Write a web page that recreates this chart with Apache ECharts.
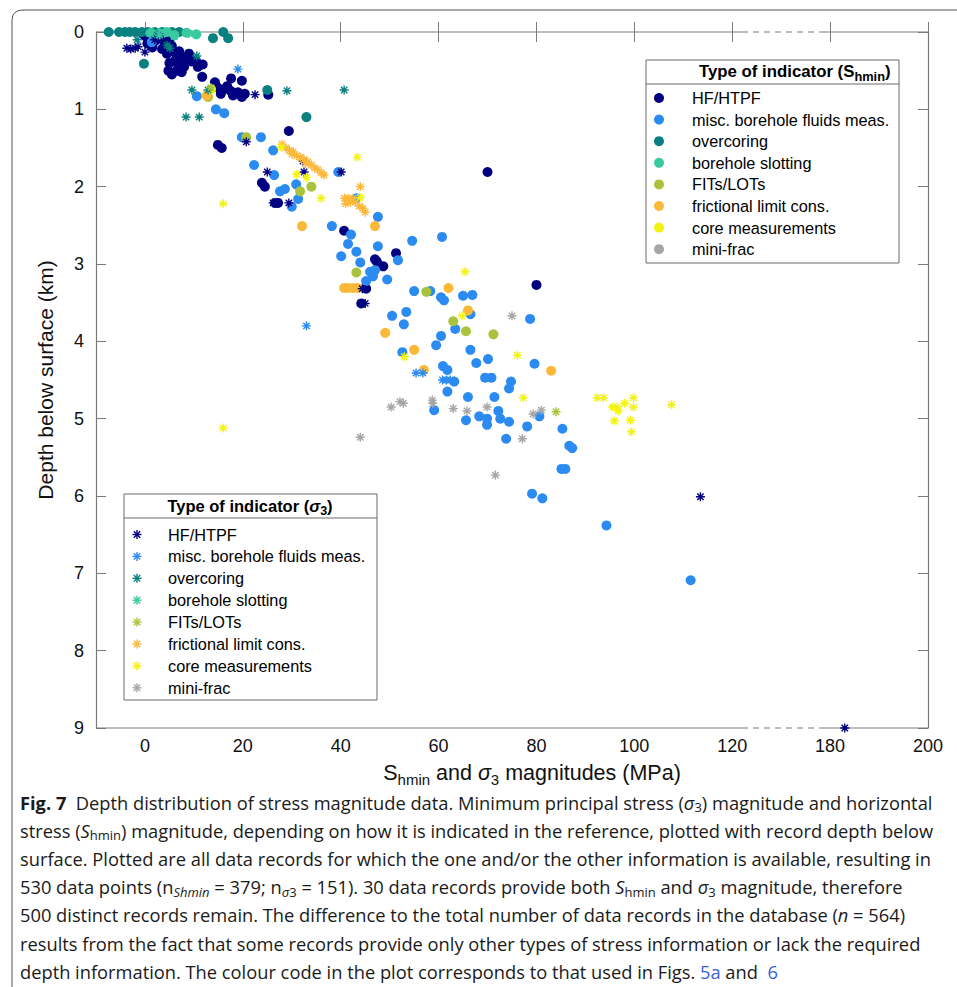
<!DOCTYPE html>
<html><head><meta charset="utf-8">
<script src="https://cdn.jsdelivr.net/npm/echarts@6/dist/echarts.min.js"></script>
<style>html,body{margin:0;padding:0;background:#fff;}#c{width:957px;height:987px;}</style>
</head><body><div id="c"></div>
<script>
// ---------------- DATA ----------------
const categories = ['HF/HTPF','misc. borehole fluids meas.','overcoring','borehole slotting','FITs/LOTs','frictional limit cons.','core measurements','mini-frac'];
const colors = ['#000080','#2b8bf0','#0a8080','#38c9a0','#a9c43c','#fcb939','#f3f312','#a6a6a6'];
const xTickValues = [0,20,40,60,80,100,120,180,200];
const yTickValues = [0,1,2,3,4,5,6,7,8,9];
const xBreak = [122,178];

// S_hmin magnitudes (circles): [MPa, km]
const shminHF = [[0,0.05],[1,0.1],[2,0.12],[3,0.08],[4,0.15],[5,0.1],[1.5,0.2],[3.5,0.22],[5.5,0.18],[0.5,0.15],[2.5,0.03],[-0.5,0.02],
[4.5,0.28],[5.5,0.25],[6.5,0.3],[7.5,0.32],[8.5,0.35],[9.5,0.38],[6,0.38],[7,0.42],[8,0.45],[5,0.4],[9,0.28],[7,0.25],
[4.8,0.5],[5.5,0.55],[6.5,0.5],[7.5,0.52],[10.4,0.37],[11.8,0.42],[10.8,0.45],[11.7,0.58],[14.3,0.65],
[14.7,0.71],[16,0.74],[17.5,0.76],[19,0.78],[20.4,0.8],[15.5,0.8],[18,0.82],[19.8,0.84],[16.8,0.7],[17.6,0.6],[19.8,0.63],[25.2,0.81],
[29.4,1.28],[14.9,1.46],[15.7,1.5],[23.9,1.95],[24.5,2.0],[26.6,2.21],[27.2,2.21],[70,1.81],
[40.7,2.57],[47,2.94],[47.4,2.97],[48.7,3.03],[51.3,2.86],[45.2,3.32],[44.2,3.51],[80,3.27]];
const shminMisc = [[1.4,0.13],[10.6,0.83],[14.5,1.0],[16.2,1.05],[19.8,1.36],[23.7,1.36],[26.2,1.53],[22.3,1.72],[26.4,1.85],[30.9,1.97],[27.6,2.06],[28.6,2.03],[31.3,2.16],[30,2.26],
[39.5,1.81],[43.2,2.15],[47.6,2.39],[38.2,2.51],[42.1,2.62],[41.5,2.74],[47.6,2.77],[54.6,2.7],[40.1,2.9],[43.2,2.84],[44,2.98],[51.7,2.95],[49.5,3.2],[46,3.1],[47,3.08],[46.6,3.16],[45.2,3.22],[55,3.35],
[60.7,2.65],[58.3,3.35],[60.5,3.43],[61.1,3.47],[65,3.41],[66.9,3.4],[66.5,3.65],[50.5,3.67],[53.4,3.62],[52.9,3.78],[63.4,3.84],[60.5,3.93],[59.5,4.05],[52.6,4.14],[66.5,4.11],[70.1,4.23],[67.7,4.28],[60.9,4.32],[61.8,4.37],[63.2,4.52],[69.5,4.47],[70.8,4.47],[74.8,4.52],[78.7,3.71],[74.4,4.61],
[79.6,4.29],[61.8,4.65],[66,4.72],[71.4,4.72],[59.1,4.89],[65.6,5.02],[68.3,4.97],[69.9,5.0],[69.9,5.08],[72.2,4.9],[72.6,5.0],[74.4,5.04],[78.1,5.1],[80.6,4.97],[85.3,5.13],[73.8,5.26],
[86.7,5.35],[87.3,5.38],[85.1,5.65],[85.9,5.65],[79.1,5.97],[81.2,6.03],[94.3,6.38],[111.5,7.09]];
const shminOver = [[-7.4,0],[-5.3,0],[-4.1,0],[-3.1,0],[-2,0],[-0.6,0],[0.6,0],[2,0],[3.5,0],[5.5,0],[7,0],[16,0],[13.9,0.08],[17,0.08],[-0.2,0.41],[25,0.75],[33,1.1]];
const shminSlot = [[4.5,0],[1.2,0.01],[3,0.02],[8.5,0.01],[10.5,0.03],[6,0.04]];
const shminFIT = [[12.9,0.84],[20.7,1.36],[31.7,2.06],[34,2.0],[43.2,3.11],[57.5,3.36],[63,3.74],[65.6,3.87],[71.2,3.91]];
const shminFric = [[12.6,0.82],[32.1,2.51],[47,2.51],[40.7,3.31],[41.5,3.31],[42.5,3.31],[43.4,3.31],[49.1,3.89],[55,4.11],[62,3.31],[66,3.6],[57,4.37],[83,4.38]];
const shminCore = [[13.5,0.74]];
const shminMini = [];

// sigma_3 magnitudes (asterisks): [MPa, km]
const sigmaHF = [[-3.7,0.21],[-2.9,0.22],[-2,0.21],[-1.4,0.19],[0,0.26],[2,0.1],[3,0.05],
[22.5,0.81],[20.7,1.42],[32.3,1.67],[32.5,1.81],[25,1.81],[29.4,2.21],[26.2,2.21],[40.1,1.81],[44.4,3.32],[45,3.51],[113.5,6.01],[183,9.0]];
const sigmaMisc = [[19,0.48],[33,3.8],[55.4,4.41],[56.8,4.41],[60.8,4.5],[61.6,4.5],[62.4,4.5],[43.4,2.15]];
const sigmaOver = [[10.6,0.31],[9.6,0.75],[12.9,0.75],[29,0.76],[8.4,1.1],[11.1,1.1],[40.7,0.75],[-1.6,0.1],[2.5,0.04],[4.5,0.17],[5.1,0.21]];
const sigmaSlot = [[1,0.02],[3,0.04],[6,0.06],[9,0.02]];
const sigmaFIT = [[13.5,0.72],[84,4.91]];
const sigmaFric = [[28,1.45],[28.8,1.5],[29.5,1.53],[30.3,1.55],[31,1.6],[31.8,1.62],[32.5,1.65],[33.3,1.68],[34,1.72],[34.7,1.76],[35.3,1.78],[36,1.82],[36.6,1.85],[30,1.58],[32.8,1.7],
[40.8,2.15],[41.5,2.15],[42.5,2.15],[43,2.2],[43.8,2.25],[44.5,2.28],[45,2.33],[41,2.22],[42,2.2],[44,2.0]];
const sigmaCore = [[16,2.22],[31,1.84],[33,1.88],[36,2.15],[27.8,1.49],[43.4,1.62],[44,2.14],[65.4,3.1],[64.8,3.67],[53,4.2],[76.1,4.18],[77.3,4.73],[92.4,4.73],[93.7,4.73],[95.5,4.85],[96.5,4.85],[96.7,4.9],[98,4.8],[99.8,4.73],[99.8,4.85],[95.9,5.03],[99.2,5.02],[99.4,5.17],[107.6,4.82],[16,5.12]];
const sigmaMini = [[75,3.67],[58.7,4.76],[58.8,4.8],[63,4.87],[65.8,4.9],[69.9,4.85],[79.3,4.94],[81,4.89],[77.1,5.26],[50.3,4.85],[52.1,4.78],[52.8,4.8],[44,5.24],[71.6,5.73]];

const shminSets = [shminHF,shminMisc,shminOver,shminSlot,shminFIT,shminFric,shminCore,shminMini];
const sigmaSets = [sigmaHF,sigmaMisc,sigmaOver,sigmaSlot,sigmaFIT,sigmaFric,sigmaCore,sigmaMini];

// ---------------- CHART ----------------
const SHIFT = xBreak[1] - xBreak[0] - 16; // 40 : compressed gap
function mx(v){ return v >= xBreak[1] ? v - SHIFT : v; }
function unmx(v){ return v > xBreak[0] + 8 ? v + SHIFT : v; }
function mapPts(a){ return a.map(p => [mx(p[0]), p[1]]); }
const AST = 'path://M5,0L5,10M0,5L10,5M1.46,1.46L8.54,8.54M1.46,8.54L8.54,1.46';
const FONT = 'Liberation Sans, Arial, Helvetica, sans-serif';
const AXC = '#7a7a7a';

const series = [];
shminSets.forEach((d,i) => series.push({
  type:'scatter', name:categories[i]+' (Shmin)', data: mapPts(d), symbol:'circle', symbolSize:10,
  itemStyle:{color:colors[i], opacity:1}, z:3, animation:false, clip:false
}));
sigmaSets.forEach((d,i) => series.push({
  type:'scatter', name:categories[i]+' (sigma3)', data: mapPts(d), symbol:AST, symbolSize:9,
  itemStyle:{color:colors[i], borderColor:colors[i], borderWidth:1.4, opacity:1}, z:4, animation:false, clip:false
}));
const xMin = -10, xMax = mx(200);
function axisSeg(y, a, b, dashed){
  return {type:'line', data:[[a,y],[b,y]], symbol:'none', silent:true, animation:false, clip:false, z:2,
    lineStyle:{color:AXC, width:1.2, type: dashed ? [6,5] : 'solid'}};
}
[0,9].forEach(y => {
  series.push(axisSeg(y, xMin, mx(xBreak[0]), false));
  series.push(axisSeg(y, mx(xBreak[0]), mx(xBreak[1]), true));
  series.push(axisSeg(y, mx(xBreak[1]), xMax, false));
});

const tickVals = xTickValues.map(mx);
const chart = echarts.init(document.getElementById('c'), null, {renderer:'svg', width:957, height:987});

// legends as graphics
const graphics = [];
function asterisk(cx, cy, col){
  const r = 4.5, d = 3.2, st = {stroke:col, lineWidth:1.4};
  return [
    {type:'line', z:12, shape:{x1:cx, y1:cy-r, x2:cx, y2:cy+r}, style:st},
    {type:'line', z:12, shape:{x1:cx-r, y1:cy, x2:cx+r, y2:cy}, style:st},
    {type:'line', z:12, shape:{x1:cx-d, y1:cy-d, x2:cx+d, y2:cy+d}, style:st},
    {type:'line', z:12, shape:{x1:cx-d, y1:cy+d, x2:cx+d, y2:cy-d}, style:st}
  ];
}
function legendBox(x, y, w, h, sepY, titleRich, titleX, titleAlign, titleY, titleSize, itemX0, textX0, itemY0, dy, isAst){
  graphics.push({type:'rect', shape:{x:x, y:y, width:w, height:h}, style:{fill:'#fff', stroke:'#6b6b6b', lineWidth:1}, z:10});
  graphics.push({type:'line', shape:{x1:x, y1:sepY, x2:x+w, y2:sepY}, style:{stroke:'#6b6b6b', lineWidth:1}, z:11});
  graphics.push({type:'text', x:titleX, y:titleY, z:11, style:{text:titleRich, align:titleAlign, verticalAlign:'middle', fill:'#000',
    font:'bold ' + titleSize + 'px ' + FONT,
    rich:{t:{fontSize:titleSize, fontWeight:'bold', fontFamily:FONT, fill:'#000'},
          s:{fontSize:titleSize-4, fontWeight:'bold', fontFamily:FONT, fill:'#000', padding:[10,0,0,0]},
          g:{fontSize:titleSize, fontWeight:'bold', fontStyle:'italic', fontFamily:FONT, fill:'#000'}}}});
  categories.forEach((c,i) => {
    const cy = itemY0 + i*dy;
    if (isAst) asterisk(itemX0, cy, colors[i]).forEach(e => graphics.push(e));
    else graphics.push({type:'circle', shape:{cx:itemX0, cy:cy, r:5}, style:{fill:colors[i]}, z:12});
    graphics.push({type:'text', x:textX0, y:cy, z:12, style:{text:c, font:'16.3px ' + FONT, fill:'#000', verticalAlign:'middle'}});
  });
}
legendBox(646, 60, 253, 203, 84, '{t|Type of indicator (S}{s|hmin}{t|)}', 699, 'left', 71, 16.8, 659, 692, 98, 21.6, false);
legendBox(124, 494, 253, 206, 518, '{t|Type of indicator (}{g|σ}{s|3}{t|)}', 250, 'center', 506, 16.5, 137, 168, 534.5, 21.9, true);

// figure frame
graphics.push({type:'polyline', shape:{points:[[12,987],[12,20],[13,15],[15,12.5],[18,10.8],[22,10],[957,10]]}, style:{stroke:'#555', lineWidth:1, fill:null}, z:0});

// caption
const capFont = 'Open Sans, Noto Sans, sans-serif';
const CF = 18.3, CS = 13;
const capRich = {
  n:{fontSize:CF, fontFamily:capFont, fill:'#1a1a1a'},
  b:{fontSize:CF, fontFamily:capFont, fontWeight:'bold', fill:'#1a1a1a'},
  i:{fontSize:CF, fontFamily:capFont, fontStyle:'italic', fill:'#1a1a1a'},
  s:{fontSize:CS, fontFamily:capFont, fill:'#1a1a1a', padding:[10,0,0,0]},
  si:{fontSize:CS, fontFamily:capFont, fontStyle:'italic', fill:'#1a1a1a', padding:[10,0,0,0]},
  l:{fontSize:CF, fontFamily:capFont, fill:'#3a5fd6'}
};
const captionLines = [
  '{b|Fig. 7}{n|  Depth distribution of stress magnitude data. Minimum principal stress (}{i|σ}{s|3}{n|) magnitude and horizontal}',
  '{n|stress (}{i|S}{s|hmin}{n|) magnitude, depending on how it is indicated in the reference, plotted with record depth below}',
  '{n|surface. Plotted are all data records for which the one and/or the other information is available, resulting in}',
  '{n|530 data points (n}{si|Shmin}{n| = 379; n}{si|σ}{s|3}{n| = 151). 30 data records provide both }{i|S}{s|hmin}{n| and }{i|σ}{s|3}{n| magnitude, therefore}',
  '{n|500 distinct records remain. The difference to the total number of data records in the database (}{i|n}{n| = 564)}',
  '{n|results from the fact that some records provide only other types of stress information or lack the required}',
  '{n|depth information. The colour code in the plot corresponds to that used in Figs. }{l|5a}{n| and  }{l|6}'
];
captionLines.forEach((t,i) => graphics.push({type:'text', x:20, y:802 + i*28.2, z:5,
  style:{text:t, rich:capRich, verticalAlign:'middle', font:CF + 'px ' + capFont}}));

const tickStyle = {show:true, inside:true, length:10, lineStyle:{color:AXC, width:1}};
chart.setOption({
  animation:false,
  backgroundColor:'#fff',
  grid:{left:96, right:29, top:32, bottom:259, outerBoundsMode:'none'},
  xAxis:[
    {type:'value', position:'bottom', min:xMin, max:xMax, splitLine:{show:false}, axisLine:{show:false},
     axisTick:Object.assign({customValues:tickVals}, tickStyle),
     axisLabel:{customValues:tickVals, formatter:v => String(Math.round(unmx(v))), fontSize:18, fontFamily:FONT, color:'#111', margin:9},
     name:'{a|S}{s|hmin}{a| and }{g|σ}{s|3}{a| magnitudes (MPa)}', nameLocation:'middle', nameGap:31,
     nameTextStyle:{rich:{a:{fontSize:21.5, fontFamily:FONT, color:'#111'}, g:{fontSize:21.5, fontStyle:'italic', fontFamily:FONT, color:'#111'}, s:{fontSize:15, fontFamily:FONT, color:'#111', padding:[13,0,0,0]}}, padding:[0,0,0,40]}},
    {type:'value', position:'top', min:xMin, max:xMax, splitLine:{show:false}, axisLine:{show:false},
     axisTick:Object.assign({customValues:tickVals}, tickStyle), axisLabel:{show:false}}
  ],
  yAxis:[
    {type:'value', inverse:true, min:0, max:9, interval:1, position:'left', splitLine:{show:false},
     axisLine:{show:true, onZero:false, lineStyle:{color:AXC, width:1.2}}, axisTick:tickStyle,
     axisLabel:{fontSize:18, fontFamily:FONT, color:'#111', margin:12},
     name:'Depth below surface (km)', nameLocation:'middle', nameGap:40,
     nameTextStyle:{fontSize:21, fontFamily:FONT, color:'#111'}},
    {type:'value', inverse:true, min:0, max:9, interval:1, position:'right', splitLine:{show:false},
     axisLine:{show:true, onZero:false, lineStyle:{color:AXC, width:1.2}}, axisTick:tickStyle, axisLabel:{show:false}}
  ],
  series:series,
  graphic:{elements:graphics}
});
</script></body></html>
